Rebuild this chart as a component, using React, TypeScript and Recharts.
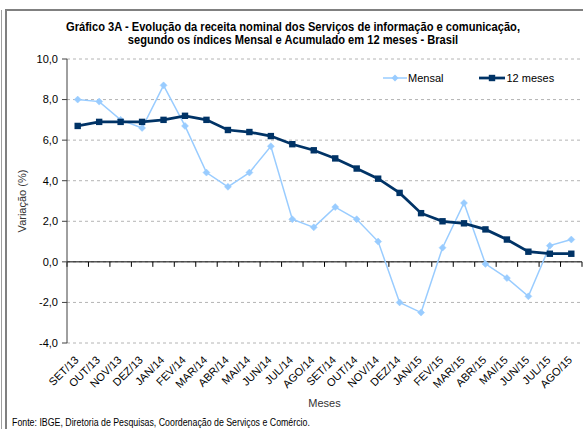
import React from 'react';
import { LineChart, Line, XAxis, YAxis, CartesianGrid, ReferenceLine, Legend } from 'recharts';

const months = ['SET/13', 'OUT/13', 'NOV/13', 'DEZ/13', 'JAN/14', 'FEV/14', 'MAR/14', 'ABR/14', 'MAI/14', 'JUN/14', 'JUL/14', 'AGO/14', 'SET/14', 'OUT/14', 'NOV/14', 'DEZ/14', 'JAN/15', 'FEV/15', 'MAR/15', 'ABR/15', 'MAI/15', 'JUN/15', 'JUL/15', 'AGO/15'];
const mensal = [8.0, 7.9, 7.0, 6.6, 8.7, 6.7, 4.4, 3.7, 4.4, 5.7, 2.1, 1.7, 2.7, 2.1, 1.0, -2.0, -2.5, 0.7, 2.9, -0.1, -0.8, -1.7, 0.8, 1.1];
const acumulado12 = [6.7, 6.9, 6.9, 6.9, 7.0, 7.2, 7.0, 6.5, 6.4, 6.2, 5.8, 5.5, 5.1, 4.6, 4.1, 3.4, 2.4, 2.0, 1.9, 1.6, 1.1, 0.5, 0.4, 0.4];
const yTicks = [-4, -2, 0, 2, 4, 6, 8, 10];
const titleLines = [
  'Gráfico 3A - Evolução da receita nominal dos Serviços de informação e comunicação,',
  'segundo os índices Mensal e Acumulado em 12 meses - Brasil',
];
const seriesNames = ['Mensal', '12 meses'];
const yLabel = 'Variação (%)';
const xLabel = 'Meses';
const source = 'Fonte: IBGE, Diretoria de Pesquisas, Coordenação de Serviços e Comércio.';

const data = months.map((m, i) => ({ mes: m, mensal: mensal[i], meses12: acumulado12[i] }));

const LIGHT = '#99CCFF';
const DARK = '#003366';
const FONT = '"Liberation Sans", Arial, sans-serif';

const fmt = (v: number) => v.toFixed(1).replace('.', ',');

const DiamondDot = (props: any) => {
  const { cx, cy } = props;
  if (cx == null || cy == null) return null;
  const r = 3.5;
  return (
    <path
      d={`M${cx},${cy - r}L${cx + r},${cy}L${cx},${cy + r}L${cx - r},${cy}Z`}
      fill={LIGHT}
      stroke={LIGHT}
      strokeWidth={0.5}
    />
  );
};

const SquareDot = (props: any) => {
  const { cx, cy } = props;
  if (cx == null || cy == null) return null;
  const s = 3.2;
  return <rect x={cx - s} y={cy - s} width={s * 2} height={s * 2} fill={DARK} />;
};

const ZeroAxis = (props: any) => {
  const { x1, y1, x2, y2 } = props;
  const n = months.length;
  const step = (x2 - x1) / n;
  const marks = Array.from({ length: n + 1 }, (_, i) => x1 + i * step);
  return (
    <g>
      <line x1={x1} y1={y1} x2={x2} y2={y2} stroke="#000" strokeWidth={1} />
      {marks.map((t, i) => (
        <line key={i} x1={t} x2={t} y1={y1} y2={y1 + 5} stroke="#000" strokeWidth={1} />
      ))}
    </g>
  );
};

const XTick = (props: any) => {
  const { x, y, payload } = props;
  return (
    <g transform={`translate(${x - 4},${y + 4})`}>
      <text
        x={0}
        y={0}
        dy="0.72em"
        textAnchor="end"
        transform="rotate(-45)"
        fontFamily={FONT}
        fontSize={11}
        fill="#000"
      >
        {payload.value}
      </text>
    </g>
  );
};

const LegendContent = () => (
  <div style={{ display: 'flex', alignItems: 'center', fontFamily: FONT, fontSize: 11, color: '#000', whiteSpace: 'nowrap' }}>
    <svg width={24} height={10} style={{ display: 'block' }}>
      <line x1={0} y1={5} x2={24} y2={5} stroke={LIGHT} strokeWidth={1.5} />
      <path d="M12,1.5L15.5,5L12,8.5L8.5,5Z" fill={LIGHT} />
    </svg>
    <span style={{ marginLeft: 1 }}>{seriesNames[0]}</span>
    <svg width={26} height={10} style={{ display: 'block', marginLeft: 36 }}>
      <line x1={0} y1={5} x2={26} y2={5} stroke={DARK} strokeWidth={2.75} />
      <rect x={9.8} y={1.8} width={6.4} height={6.4} fill={DARK} />
    </svg>
    <span style={{ marginLeft: 1 }}>{seriesNames[1]}</span>
  </div>
);

export default function App() {
  return (
    <div style={{ position: 'absolute', left: 0, top: 0, width: 583, height: 429, background: '#fff', overflow: 'hidden' }}>
      <div style={{ position: 'absolute', left: 1, top: 10, width: 1, height: 419, background: '#a0a0a0' }} />
      <div style={{ position: 'absolute', left: 5, top: 9, width: 2, height: 420, background: '#808080' }} />
      <div style={{ position: 'absolute', left: 5, top: 9, width: 578, height: 2, background: '#808080' }} />
      <div
        style={{
          position: 'absolute',
          left: 0,
          top: 21,
          width: 586,
          textAlign: 'center',
          fontFamily: FONT,
          fontWeight: 'bold',
          fontSize: 12.5,
          lineHeight: '12.5px',
          color: '#000',
          transform: 'scaleX(0.89)',
          transformOrigin: '293px 0',
        }}
      >
        {titleLines.map((t, i) => (
          <div key={i}>{t}</div>
        ))}
      </div>
      <div style={{ position: 'absolute', left: 0, top: 0 }}>
        <LineChart width={583} height={429} data={data} margin={{ top: 59, right: 1, bottom: 20, left: 0 }}>
          <CartesianGrid vertical={false} stroke="#b4b4b4" strokeDasharray="3 3" />
          <XAxis
            dataKey="mes"
            interval={0}
            tickLine={false}
            axisLine={false}
            padding={{ left: 10.7, right: 10.7 }}
            height={66}
            tick={<XTick />}
            label={{ value: xLabel, position: 'insideBottom', offset: 2, fontFamily: FONT, fontSize: 11, fill: '#333' }}
          />
          <YAxis
            domain={[-4, 10]}
            ticks={yTicks}
            width={67}
            tickFormatter={fmt}
            tickSize={5}
            tickMargin={4}
            axisLine={{ stroke: '#404040' }}
            tickLine={{ stroke: '#404040' }}
            tick={{ fontFamily: FONT, fontSize: 11, fill: '#000' }}
            label={{ value: yLabel, angle: -90, position: 'insideLeft', offset: 22, style: { textAnchor: 'middle' }, fontFamily: FONT, fontSize: 11, fill: '#333' }}
          />
          <ReferenceLine y={0} shape={<ZeroAxis />} />
          <Line
            type="linear"
            dataKey="mensal"
            name={seriesNames[0]}
            stroke={LIGHT}
            strokeWidth={1.5}
            dot={<DiamondDot />}
            activeDot={false}
            isAnimationActive={false}
          />
          <Line
            type="linear"
            dataKey="meses12"
            name={seriesNames[1]}
            stroke={DARK}
            strokeWidth={2.75}
            dot={<SquareDot />}
            activeDot={false}
            isAnimationActive={false}
          />
          <Legend
            layout="horizontal"
            verticalAlign="middle"
            align="center"
            content={<LegendContent />}
            wrapperStyle={{ position: 'absolute', top: 72, left: 383, width: 'auto', height: 12 }}
          />
        </LineChart>
      </div>
      <div
        style={{
          position: 'absolute',
          left: 12,
          top: 417,
          fontFamily: FONT,
          fontSize: 10,
          lineHeight: '12px',
          color: '#000',
          whiteSpace: 'nowrap',
          transform: 'scaleX(0.88)',
          transformOrigin: '0 0',
        }}
      >
        {source}
      </div>
    </div>
  );
}
